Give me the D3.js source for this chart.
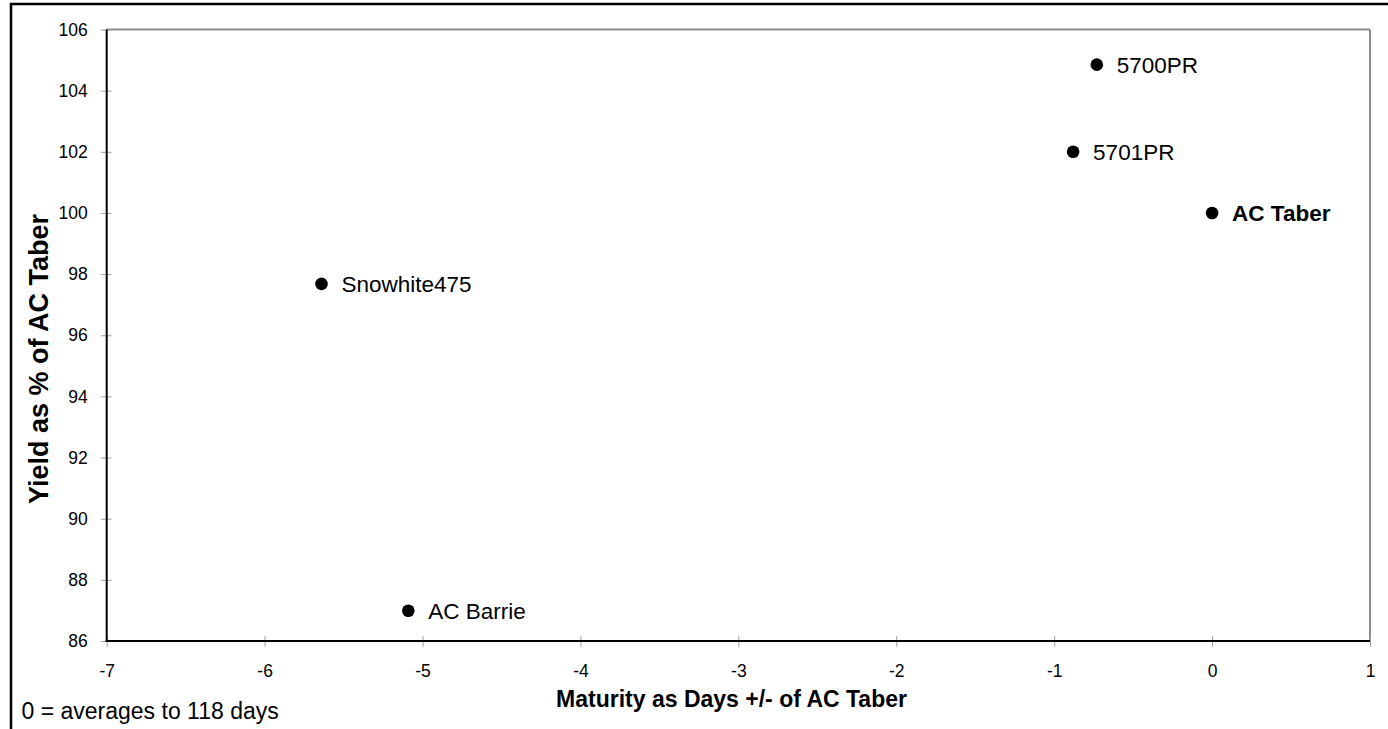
<!DOCTYPE html>
<html>
<head>
<meta charset="utf-8">
<script src="https://cdn.jsdelivr.net/npm/d3@7"></script>
<style>
  html, body { margin: 0; padding: 0; background: #fff; }
  svg { display: block; font-family: "Liberation Sans", Arial, sans-serif; }
</style>
</head>
<body>
<svg id="chart" width="1388" height="729"></svg>
<script>
const varieties = ["5700PR", "5701PR", "AC Taber", "Snowhite475", "AC Barrie"];
const maturity = [-0.73, -0.88, 0, -5.64, -5.09];
const yieldPct = [104.85, 102.0, 100.0, 97.68, 86.99];
const boldLabel = [false, false, true, false, false];
const xTicks = [-7, -6, -5, -4, -3, -2, -1, 0, 1];
const yTicks = [86, 88, 90, 92, 94, 96, 98, 100, 102, 104, 106];

(function () {
const svg = d3.select("#chart");
const pL = 106.7, pR = 1370, pT = 29.5, pB = 641;

const x = d3.scaleLinear().domain([-7, 1]).range([pL, pR]);
const y = d3.scaleLinear().domain([86, 106]).range([pB, pT]);

// outer border (only top and left visible)
svg.append("rect").attr("x", 11).attr("y", 4).attr("width", 1400).attr("height", 760)
  .attr("fill", "none").attr("stroke", "#000").attr("stroke-width", 2.5);

// plot frame: top & right gray
svg.append("line").attr("x1", pL).attr("x2", pR).attr("y1", pT).attr("y2", pT)
  .attr("stroke", "#8c8c8c").attr("stroke-width", 2);
svg.append("line").attr("x1", pR).attr("x2", pR).attr("y1", pT).attr("y2", pB)
  .attr("stroke", "#8c8c8c").attr("stroke-width", 2);

const fmt = d => String(d);

// Y axis
const yAxis = d3.axisLeft(y).tickValues(yTicks).tickFormat(fmt).tickSize(0).tickPadding(19);
const gy = svg.append("g").attr("transform", `translate(${pL},0)`).call(yAxis);
gy.select(".domain").remove();
gy.selectAll(".tick text").attr("font-size", 17.5).attr("fill", "#000")
  .attr("font-family", "Liberation Sans, Arial, sans-serif");
gy.selectAll(".tick").append("line").attr("x1", -6).attr("x2", 5)
  .attr("stroke", "#a0a0a0").attr("stroke-width", 1);

// X axis
const xAxis = d3.axisBottom(x).tickValues(xTicks).tickFormat(fmt).tickSize(0).tickPadding(24);
const gx = svg.append("g").attr("transform", `translate(0,${pB})`).call(xAxis);
gx.select(".domain").remove();
gx.selectAll(".tick text").attr("font-size", 17.5).attr("fill", "#000")
  .attr("font-family", "Liberation Sans, Arial, sans-serif");
gx.selectAll(".tick").append("line").attr("y1", -5).attr("y2", 6)
  .attr("stroke", "#a0a0a0").attr("stroke-width", 1);

// axis lines black
svg.append("line").attr("x1", pL).attr("x2", pL).attr("y1", pT).attr("y2", pB + 1)
  .attr("stroke", "#000").attr("stroke-width", 2);
svg.append("line").attr("x1", pL - 1).attr("x2", pR).attr("y1", pB).attr("y2", pB)
  .attr("stroke", "#000").attr("stroke-width", 2);

// points
const data = varieties.map((v, i) => ({ name: v, mx: maturity[i], yy: yieldPct[i], bold: boldLabel[i] }));
svg.append("g").selectAll("circle").data(data).join("circle")
  .attr("cx", d => x(d.mx)).attr("cy", d => y(d.yy)).attr("r", 6.3).attr("fill", "#000");

svg.append("g").selectAll("text").data(data).join("text")
  .attr("x", d => x(d.mx) + 20).attr("y", d => y(d.yy))
  .attr("dy", "0.35em")
  .attr("font-size", 22.5)
  .attr("font-weight", d => d.bold ? "bold" : "normal")
  .attr("fill", "#000")
  .text(d => d.name);

// axis titles
svg.append("text").attr("x", (553 + 910) / 2).attr("y", 707)
  .attr("text-anchor", "middle").attr("font-size", 23).attr("font-weight", "bold")
  .text("Maturity as Days +/- of AC Taber");

svg.append("text").attr("transform", `translate(48,${(210 + 508) / 2}) rotate(-90)`)
  .attr("text-anchor", "middle").attr("font-size", 27).attr("font-weight", "bold")
  .text("Yield as % of AC Taber");

// footnote
svg.append("text").attr("x", 21.5).attr("y", 719)
  .attr("font-size", 23).text("0 = averages to 118 days");
})();
</script>
</body>
</html>
